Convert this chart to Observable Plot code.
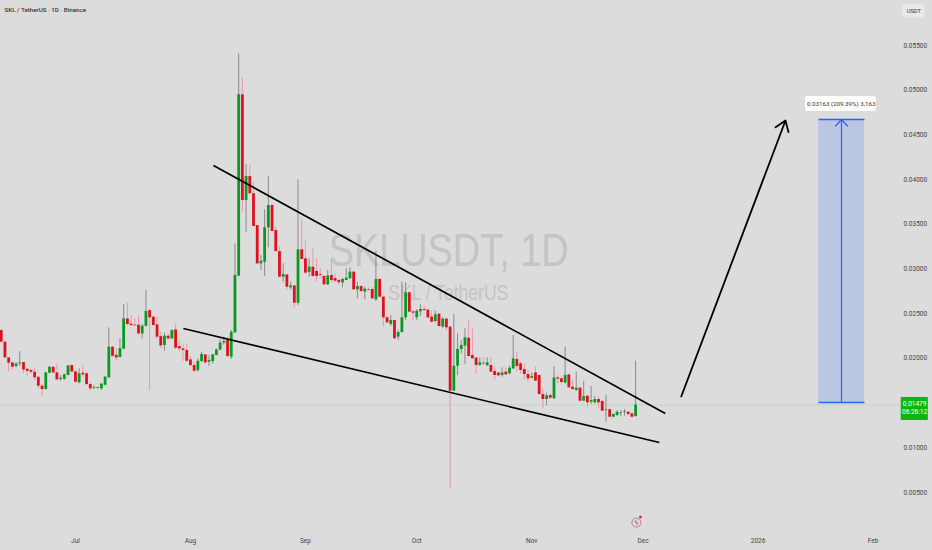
<!DOCTYPE html>
<html><head><meta charset="utf-8">
<style>html,body{margin:0;padding:0;background:#dcdcdc;overflow:hidden}svg{display:block}</style>
<script src="https://cdn.jsdelivr.net/npm/d3@7"></script>
<script src="https://cdn.jsdelivr.net/npm/@observablehq/plot@0.6"></script>
</head><body><div id="chart"></div>
<script>
// Daily candles, prices in 1e-5 USDT, first candle 2025-06-11
const opens=[2311,2181,2006,1950,1909,1938,1953,1879,1864,1845,1789,1689,1651,1834,1901,1838,1763,1767,1808,1920,1849,1726,1834,1827,1707,1666,1674,1659,1700,1782,2125,2035,2009,2103,2442,2382,2371,2371,2274,2360,2535,2461,2375,2244,2144,2248,2218,2319,2132,2106,2088,1983,1920,1864,1965,2039,1957,1965,2032,2095,2170,2200,2013,2285,2919,4948,3766,4034,3841,3486,3057,3076,3460,3710,3430,3195,2908,2934,2789,2811,2617,3214,3113,2961,3020,2972,2938,2916,2823,2927,2893,2871,2845,2870,2890,2965,2767,2804,2741,2767,2771,2655,2883,2685,2454,2379,2424,2238,2290,2454,2734,2521,2454,2521,2547,2540,2461,2413,2495,2349,2439,2349,1633,1913,2100,2137,2226,2032,2003,1921,1947,1917,1920,1853,1835,1809,1846,1827,1883,1988,1939,1876,1820,1779,1838,1809,1596,1540,1585,1548,1782,1771,1723,1816,1678,1641,1667,1521,1577,1510,1503,1540,1518,1417,1425,1342,1361,1383,1395,1398,1380,1350];
const closes=[2181,2006,1946,1901,1938,1950,1871,1856,1845,1782,1689,1651,1838,1901,1838,1759,1778,1815,1916,1849,1733,1827,1815,1707,1659,1674,1666,1711,1789,2125,2024,2006,2110,2442,2379,2367,2364,2274,2360,2524,2453,2367,2237,2140,2248,2218,2311,2114,2106,2088,1968,1920,1856,1968,2043,1950,1976,2039,2095,2170,2188,2021,2293,2927,4948,3766,4034,3841,3475,3057,3087,3460,3710,3419,3195,2908,2938,2796,2811,2617,3214,3106,2953,3020,2916,2916,2927,2823,2923,2871,2864,2845,2882,2898,2965,2767,2804,2748,2775,2760,2666,2883,2685,2454,2398,2424,2219,2290,2454,2734,2517,2506,2528,2547,2536,2454,2405,2487,2357,2439,2342,1633,1913,2100,2144,2230,2021,1995,1921,1950,1939,1950,1846,1809,1805,1838,1816,1891,1995,1909,1865,1820,1771,1797,1745,1596,1540,1581,1555,1782,1768,1730,1809,1671,1652,1667,1521,1574,1503,1529,1540,1503,1410,1425,1342,1372,1398,1391,1402,1372,1342,1479];
const highs=[2319,2188,2006,1950,1950,2076,1953,1879,1879,1890,1789,1715,1838,1909,1909,1938,1808,1827,1920,1927,1856,1883,1920,1845,1733,1692,1692,1722,1800,2341,2136,2106,2218,2602,2617,2479,2442,2479,2379,2759,2543,2468,2461,2293,2285,2274,2319,2386,2207,2162,2162,2021,1957,1994,2069,2043,2032,2043,2106,2207,2237,2237,2311,3281,5407,5138,4169,4157,3971,3486,3151,3662,4038,3729,3468,3244,3057,2938,2852,2815,3997,3553,3318,3113,3225,3113,3002,2927,2983,3102,2946,2890,2897,3002,3013,2965,2853,2816,2797,2789,2797,3200,2890,2693,2469,2480,2431,2312,2853,2842,2741,2536,2543,2599,2584,2551,2528,2528,2499,2454,2446,2357,2491,2275,2200,2331,2431,2331,2014,2006,2006,2006,2006,1902,1846,1894,1891,1913,2256,2070,1958,1939,1865,1838,1902,1809,1659,1611,1603,1909,1809,1790,2126,1820,1753,1846,1678,1741,1585,1686,1574,1566,1529,1585,1436,1380,1417,1417,1428,1406,1380,1969];
const lows=[2174,2006,1845,1871,1894,1909,1827,1800,1819,1752,1659,1577,1651,1827,1830,1752,1745,1752,1808,1838,1722,1715,1789,1696,1629,1648,1648,1640,1692,1782,2006,1976,2009,2103,2367,2356,2364,2256,2218,2349,1633,2367,2207,2106,2080,2207,2218,2099,2069,1965,1957,1909,1834,1845,1957,1938,1909,1938,2028,2080,2144,2006,1987,2285,2919,3635,3412,3841,3468,3057,2983,2919,3236,3419,3188,2901,2852,2759,2767,2565,2591,3106,2946,2908,2908,2852,2890,2815,2815,2852,2849,2815,2789,2872,2890,2760,2666,2734,2655,2752,2655,2640,2678,2349,2387,2357,2211,2200,2282,2424,2510,2424,2424,2469,2525,2443,2398,2398,2349,2338,2305,545,1633,1809,2051,1928,2014,1988,1827,1909,1921,1913,1838,1760,1797,1790,1809,1816,1876,1846,1827,1760,1734,1771,1741,1585,1436,1473,1540,1540,1715,1715,1715,1667,1641,1633,1510,1521,1447,1484,1492,1436,1406,1287,1335,1335,1350,1350,1354,1361,1335,1342];
const firstCandle=Date.UTC(2025,5,11);
const dayMs=864e5;
const day=n=>new Date(Date.UTC(2025,6,1)+n*dayMs); // days since 1 Jul 2025

const candles=opens.map((o,i)=>({date:new Date(firstCandle+i*dayMs),o:o/1e5,c:closes[i]/1e5,h:highs[i]/1e5,l:lows[i]/1e5,up:closes[i]>=o}));

const axisPrices=[0.005,0.01,0.02,0.025,0.03,0.035,0.04,0.045,0.05,0.055];
const monthTicks=[day(0),day(31),day(62),day(92),day(123),day(153),day(184),day(215)];
const monthLabels=["Jul","Aug","Sep","Oct","Nov","Dec","2026","Feb"];
const lastPrice=0.01479;
const trendLines=[{x1:day(37.2),y1:0.04158,x2:day(159),y2:0.01384},{x1:day(29.1),y1:0.02334,x2:day(157.4),y2:0.01059}];
const bigArrow=[{x1:day(163.3),y1:0.01574,x2:day(191.4),y2:0.04661}];
const target={x1:day(200.3),x2:day(212.7),xm:day(206.5),y1:0.01507,y2:0.04672};

const font="Roboto,sans-serif";
const wm="'Liberation Sans',sans-serif";
const chart=Plot.plot({
  width:932,height:550,marginLeft:0,marginRight:32,marginTop:0,marginBottom:18,
  style:{background:"#dcdcdc",fontFamily:font,overflow:"visible"},
  x:{type:"utc",domain:[day(-20.2),day(222.4)]},
  y:{type:"linear",domain:[0.000526,0.06003]},
  marks:[
    Plot.text(["SKLUSDT, 1D"],{x:day(100.6),y:0.0320,fontSize:47,fontFamily:wm,fill:"#c4c4c4"}),
    Plot.text(["SKL / TetherUS"],{x:day(100.5),y:0.02737,fontSize:22,fontFamily:wm,fill:"#c4c4c4"}),
    Plot.ruleY([lastPrice],{stroke:"#bfd8bf",strokeWidth:1}),
    Plot.ruleX(candles,{x:"date",y1:"l",y2:"h",stroke:d=>d.up?"#8a8a8a":"#e79aa4",strokeWidth:1}),
    Plot.ruleX(candles,{x:"date",y1:"o",y2:"c",stroke:d=>d.up?"#0a9a22":"#e0101f",strokeWidth:2.8}),
    Plot.link(trendLines,{x1:"x1",y1:"y1",x2:"x2",y2:"y2",stroke:"#000",strokeWidth:1.7}),
    Plot.arrow(bigArrow,{x1:"x1",y1:"y1",x2:"x2",y2:"y2",bend:0,stroke:"#000",strokeWidth:1.8,headLength:10,headAngle:70}),
    Plot.rect([target],{x1:"x1",x2:"x2",y1:"y1",y2:"y2",fill:"#2962ff",fillOpacity:0.18}),
    Plot.link([target],{x1:"x1",x2:"x2",y1:"y1",y2:"y1",stroke:"#2962ff",strokeWidth:1.5}),
    Plot.link([target],{x1:"x1",x2:"x2",y1:"y2",y2:"y2",stroke:"#2962ff",strokeWidth:1.5}),
    Plot.arrow([target],{x1:"xm",x2:"xm",y1:"y1",y2:"y2",bend:0,stroke:"#2962ff",strokeWidth:1.2,headLength:11,headAngle:85}),
    Plot.rect([{}],{x1:()=>day(196.8),x2:()=>day(215.9),y1:()=>0.04761,y2:()=>0.04929,fill:"#fff",rx:2}),
    Plot.text(["0.03163 (209.39%) 3,163"],{x:day(206.4),y:0.04845,fontSize:6.2,fill:"#333"}),
    Plot.rect([{}],{x1:()=>day(222.6),x2:()=>day(229.9),y1:()=>0.01305,y2:()=>0.01563,fill:"#0cb80c"}),
    Plot.text(["0.01479"],{x:day(226.2),y:0.01495,fontSize:6.5,fill:"#fff"}),
    Plot.text(["06:26:12"],{x:day(226.2),y:0.01405,fontSize:6.5,fill:"#fff"}),
    Plot.rect([{}],{x1:()=>day(222.9),x2:()=>day(229),y1:()=>0.05811,y2:()=>0.05956,fill:"#e9e9e9",rx:2}),
    Plot.text(["USDT"],{x:day(226),y:0.05883,fontSize:5.8,fill:"#333"}),
    Plot.text(["SKL / TetherUS · 1D · Binance"],{x:day(-19.1),y:0.05893,textAnchor:"start",fontSize:6.2,fill:"#333",fontWeight:500}),
    Plot.dot([{}],{x:()=>day(151.2),y:()=>0.00164,r:4.5,stroke:"#b9697a",strokeWidth:0.9}),
    Plot.dot([{}],{x:()=>day(152.3),y:()=>0.00225,r:1.3,fill:"#e0101f"}),
    Plot.text(["ϟ"],{x:day(151.2),y:0.00164,fontSize:7,fill:"#b04a5a"}),
    Plot.axisY({anchor:"right",ticks:axisPrices,tickSize:0,tickPadding:3,tickFormat:d3.format(".5f"),label:null,fontSize:6.5,fill:"#444"}),
    Plot.axisX({anchor:"bottom",ticks:monthTicks,tickSize:0,tickPadding:6,tickFormat:d=>monthLabels[monthTicks.findIndex(t=>+t===+d)],label:null,fontSize:6.5,fill:"#444"})
  ]
});
// Watermark glyphs are narrower than any installed face: condense them to the reference widths
const squeeze={"SKLUSDT, 1D":240,"SKL / TetherUS":120};
chart.querySelectorAll("text").forEach(t=>{
  const w=squeeze[t.textContent];
  if(w&&t.getAttribute("font-size")!=="6.2"&&!t.textContent.includes("·")){t.setAttribute("textLength",w);t.setAttribute("lengthAdjust","spacingAndGlyphs");}
});
document.getElementById("chart").append(chart);
</script></body></html>
